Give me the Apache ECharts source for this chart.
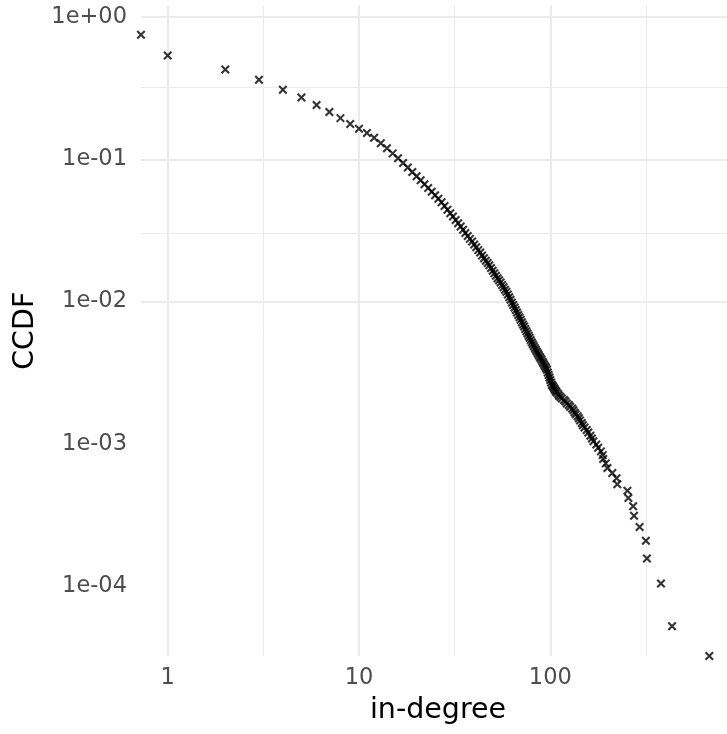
<!DOCTYPE html>
<html>
<head>
<meta charset="utf-8">
<title>CCDF of in-degree</title>
<script src="https://cdn.jsdelivr.net/npm/echarts@6/dist/echarts.min.js"></script>
<style>
	html, body { margin: 0; padding: 0; background: #fff; }
	#echarts-ccdf-chart { width: 727px; height: 734px; }
</style>
</head>
<body>
<div id="echarts-ccdf-chart"></div>
<script>
// in-degree (0 sits at -Inf on a log scale, ggplot draws it on the panel edge)
var inDegree = [0, 1, 2, 3, 4, 5, 6, 7, 8, 9, 10, 11, 12, 13, 14, 15, 16, 17, 18, 19,
	20, 21, 22, 23, 24, 25, 26, 27, 28, 29, 30, 31, 32, 33, 34, 35, 36, 37, 38, 39,
	40, 41, 42, 43, 44, 45, 46, 47, 48, 49, 50, 51, 52, 53, 54, 55, 56, 57, 58, 59,
	60, 61, 62, 63, 64, 65, 66, 67, 68, 69, 70, 71, 72, 73, 74, 75, 76, 77, 78, 79,
	80, 81, 82, 83, 84, 85, 86, 87, 88, 89, 90, 91, 92, 93, 94, 95, 96, 97, 98, 99,
	100, 101, 102, 103, 104, 105, 106, 107, 108, 110, 111, 113, 115, 118, 120, 122, 125, 127, 130, 132,
	134, 136, 139, 141, 143, 146, 148, 151, 155, 158, 162, 165, 168, 174, 178, 184, 188, 189, 195, 199,
	211, 222, 224, 253, 256, 271, 274, 293, 316, 320, 379, 433, 678];

// CCDF (last one is 0, drawn on the bottom edge)
var ccdf = [0.752, 0.538, 0.429, 0.363, 0.309, 0.272, 0.241, 0.215, 0.195, 0.177,
	0.164, 0.153, 0.142, 0.130, 0.1195, 0.1102, 0.1018, 0.0942, 0.0877, 0.0815,
	0.0762, 0.0714, 0.0669, 0.0630, 0.0593, 0.0559, 0.0529, 0.0499, 0.0470, 0.0442,
	0.0418, 0.0396, 0.0375, 0.0355, 0.0337, 0.0320, 0.0304, 0.0289, 0.0276, 0.0264,
	0.0252, 0.0241, 0.0230, 0.0221, 0.0211, 0.0202, 0.0194, 0.0187, 0.0180, 0.0172,
	0.0165, 0.0158, 0.0152, 0.0146, 0.0141, 0.0136, 0.0131, 0.0126, 0.0121, 0.0117,
	0.0112, 0.01074, 0.01028, 0.00986, 0.00946, 0.00909, 0.00872, 0.00838, 0.00805, 0.00776,
	0.00746, 0.00716, 0.00691, 0.00667, 0.00642, 0.00619, 0.00597, 0.00576, 0.00556, 0.00537,
	0.00518, 0.00501, 0.00486, 0.00472, 0.00458, 0.00445, 0.00433, 0.00421, 0.00409, 0.00399,
	0.00389, 0.00378, 0.00368, 0.00358, 0.00349, 0.00341, 0.00331, 0.00317, 0.00305, 0.00292,
	0.00281, 0.00270, 0.00260, 0.00255, 0.00250, 0.00244, 0.00239, 0.00234, 0.00229, 0.00224,
	0.00218, 0.00213, 0.00208, 0.00203, 0.00198, 0.00192, 0.00187, 0.00182, 0.00177, 0.00172,
	0.00166, 0.00161, 0.00156, 0.00151, 0.00146, 0.00140, 0.00135, 0.00130, 0.00125, 0.00120,
	0.00114, 0.00109, 0.00104, 0.000988, 0.000936, 0.000884, 0.000832, 0.000780, 0.000728, 0.000676,
	0.000624, 0.000572, 0.000520, 0.000468, 0.000416, 0.000364, 0.000312, 0.000260, 0.000208, 0.000156,
	0.000104, 0.000052, 0];

// breaks and labels
var xBreaks = [1, 10, 100];
var xTickLabels = ['1', '10', '100'];
var xMinorBreaks = [3.16228, 31.6228, 316.228];
var yBreaks = [1, 0.1, 0.01, 0.001, 0.0001];
var yTickLabels = ['1e+00', '1e-01', '1e-02', '1e-03', '1e-04'];
var yMinorBreaks = [0.316228, 0.0316228, 0.00316228, 0.000316228];

// visible panel limits (the original panel runs a little past the right edge)
var xMin = 0.7251, xMax = 839;
var yMin = 3.217e-5, yMax = 1.208;

function breakLabel(breaks, labels) {
	return function(v) {
		for (var i = 0; i < breaks.length; i++) {
			if (Math.abs(Math.log10(v) - Math.log10(breaks[i])) < 1e-6) return labels[i];
		}
		return '';
	};
}

var points = [];
for (var i = 0; i < inDegree.length; i++) {
	// -Inf values are pinned to the panel edge
	points.push([Math.max(inDegree[i], xMin), Math.max(ccdf[i], yMin)]);
}

var gridLines = [];
xBreaks.forEach(function(v) { gridLines.push({ xAxis: v, lineStyle: { width: 2 } }); });
xMinorBreaks.forEach(function(v) { gridLines.push({ xAxis: v, lineStyle: { width: 1 } }); });
yBreaks.forEach(function(v) { gridLines.push({ yAxis: v, lineStyle: { width: 2 } }); });
yMinorBreaks.forEach(function(v) { gridLines.push({ yAxis: v, lineStyle: { width: 1 } }); });

var labelFont = 'DejaVu Sans';
var chart = echarts.init(document.getElementById('echarts-ccdf-chart'));
var option = {
	animation: false,
	backgroundColor: '#ffffff',
	grid: { left: 141, top: 5.5, right: 0, bottom: 78, containLabel: false },
	xAxis: {
		type: 'log',
		min: xMin,
		max: xMax,
		name: 'in-degree',
		nameLocation: 'middle',
		nameGap: 40,
		nameTextStyle: { fontFamily: labelFont, fontSize: 28.5, color: '#000000', padding: [0, 0, 0, 8] },
		axisLine: { show: false },
		axisTick: { show: false },
		splitLine: { show: false },
		minorSplitLine: { show: false },
		axisLabel: {
			customValues: xBreaks,
			formatter: breakLabel(xBreaks, xTickLabels),
			fontFamily: labelFont, fontSize: 22.5, color: '#4d4d4d', margin: 11
		}
	},
	yAxis: {
		type: 'log',
		min: yMin,
		max: yMax,
		name: 'CCDF',
		nameLocation: 'middle',
		nameGap: 98,
		nameTextStyle: { fontFamily: labelFont, fontSize: 28.5, color: '#000000' },
		axisLine: { show: false },
		axisTick: { show: false },
		splitLine: { show: false },
		minorSplitLine: { show: false },
		axisLabel: {
			customValues: yBreaks,
			formatter: breakLabel(yBreaks, yTickLabels),
			fontFamily: labelFont, fontSize: 22.5, color: '#4d4d4d', margin: 14
		}
	},
	series: [{
		// panel grid lines
		type: 'scatter',
		data: [],
		z: 1,
		silent: true,
		markLine: {
			z: 1,
			silent: true,
			symbol: ['none', 'none'],
			label: { show: false },
			lineStyle: { color: '#ebebeb', type: 'solid' },
			emphasis: { disabled: true },
			data: gridLines
		}
	}, {
		type: 'scatter',
		z: 3,
		clip: false,
		symbol: 'path://M0,0L10,10M10,0L0,10',
		symbolSize: 7.5,
		itemStyle: { color: '#000000', borderColor: '#000000', borderWidth: 2.1 },
		emphasis: { disabled: true },
		data: points
	}]
};
chart.setOption(option);
</script>
</body>
</html>
